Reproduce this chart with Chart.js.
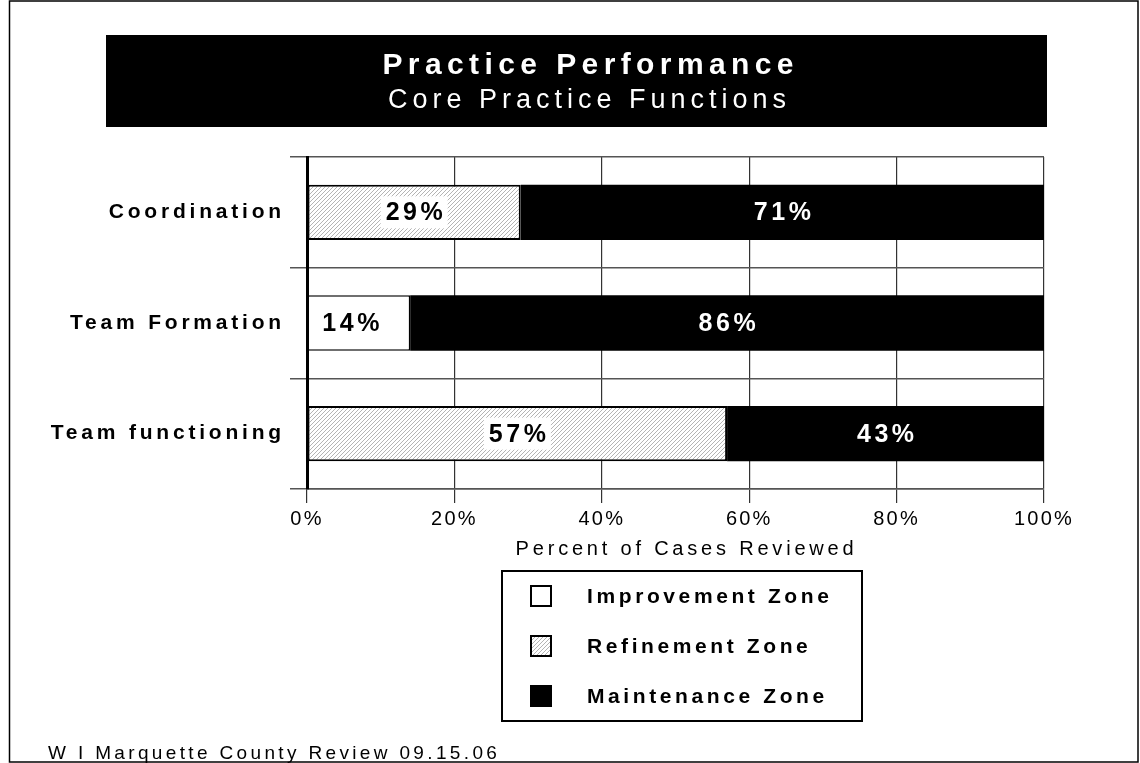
<!DOCTYPE html>
<html lang="en">
<head>
<meta charset="UTF-8">
<title>Practice Performance</title>
<script src="https://cdn.jsdelivr.net/npm/chart.js"></script>
<style>
  body { margin: 0; background: #fff; }
  .wrap { width: 1140px; height: 763px; position: relative; }
</style>
</head>
<body>
<div class="wrap"><canvas id="chart"></canvas></div>
<script>
// data
const categories = ['Coordination', 'Team Formation', 'Team functioning'];
const zoneNames = ['Improvement Zone', 'Refinement Zone', 'Maintenance Zone'];
const improvement = [0, 14, 0];
const refinement = [29, 0, 57];
const maintenance = [71, 86, 43];
const xTicks = [0, 20, 40, 60, 80, 100];
const titleText = 'Practice Performance';
const subtitleText = 'Core Practice Functions';
const axisTitle = 'Percent of Cases Reviewed';
const footerText = 'W I Marquette County Review 09.15.06';

const FONT = '"Liberation Sans", Arial, sans-serif';

// fine diagonal hatch like the original
function makeHatch() {
    const c = document.createElement('canvas');
    c.width = 4; c.height = 4;
    const g = c.getContext('2d');
    g.fillStyle = '#fff';
    g.fillRect(0, 0, 4, 4);
    g.strokeStyle = '#b4b4b4';
    g.lineWidth = 1;
    g.beginPath();
    g.moveTo(0, 4); g.lineTo(4, 0);
    g.moveTo(-1, 1); g.lineTo(1, -1);
    g.moveTo(3, 5); g.lineTo(5, 3);
    g.stroke();
    return g.createPattern(c, 'repeat');
}
const hatch = makeHatch();

function spacedText(ctx, text, x, y, spacing, align) {
    ctx.save();
    ctx.letterSpacing = spacing + 'px';
    ctx.textAlign = align || 'left';
    const dx = align === 'center' ? spacing / 2 : 0;
    ctx.fillText(text, x + dx, y);
    ctx.restore();
}

// letter spacing for the axis texts
function spaceScale(scale, labelGap, titleGap, titleShift) {
    if (scale._spaced) return;
    scale._spaced = true;
    const dl = scale.drawLabels;
    const dt = scale.drawTitle;
    scale.drawLabels = function (a) {
        this.ctx.save();
        this.ctx.letterSpacing = labelGap + 'px';
        dl.call(this, a);
        this.ctx.restore();
    };
    scale.drawTitle = function () {
        this.ctx.save();
        this.ctx.letterSpacing = titleGap + 'px';
        this.ctx.translate(titleShift || 0, 0);
        dt.call(this);
        this.ctx.restore();
    };
}

const decor = {
    id: 'decor',
    afterLayout(chart) {
        spaceScale(chart.scales.y, 3.8, 0);
        spaceScale(chart.scales.x, 2.2, 3.8, 11);
    },
    afterDatasetsDraw(chart) {
        const ctx = chart.ctx;
        ctx.save();
        ctx.font = 'bold 25px ' + FONT;
        ctx.textBaseline = 'middle';
        chart.data.datasets.forEach((ds, di) => {
            const meta = chart.getDatasetMeta(di);
            meta.data.forEach((bar, i) => {
                const v = ds.data[i];
                if (!v) return;
                const p = bar.getProps(['x', 'y', 'base'], true);
                const cx = (p.x + p.base) / 2 - (ds.labelShift || 0);
                const text = v + '%';
                ctx.letterSpacing = '3.5px';
                const w = ctx.measureText(text).width - 3.5;
                if (ds.labelBox) {
                    ctx.fillStyle = '#fff';
                    ctx.fillRect(cx - w / 2 - 5, p.y - 16, w + 10, 32);
                }
                ctx.fillStyle = ds.labelColor;
                spacedText(ctx, text, cx, p.y + 1, 3.5, 'center');
            });
        });
        ctx.restore();
    },
    afterDraw(chart) {
        const ctx = chart.ctx;
        ctx.save();
        // outer frame
        ctx.strokeStyle = '#000';
        ctx.lineWidth = 1.5;
        ctx.strokeRect(9.5, 1, 1128.5, 761);

        // title block
        ctx.fillStyle = '#000';
        ctx.fillRect(106, 35, 941, 92);
        ctx.fillStyle = '#fff';
        ctx.textBaseline = 'alphabetic';
        ctx.font = 'bold 30px ' + FONT;
        spacedText(ctx, titleText, 588, 74, 5.4, 'center');
        ctx.font = '27px ' + FONT;
        spacedText(ctx, subtitleText, 587, 108, 5.0, 'center');

        // legend box
        ctx.strokeStyle = '#000';
        ctx.lineWidth = 2;
        ctx.strokeRect(502, 571, 360, 150);
        ctx.font = 'bold 21px ' + FONT;
        ctx.textBaseline = 'middle';
        chart.data.datasets.forEach((ds, i) => {
            const cy = 596 + i * 50;
            ctx.fillStyle = ds.backgroundColor;
            ctx.fillRect(531, cy - 10, 20, 20);
            ctx.lineWidth = 2;
            ctx.strokeStyle = '#000';
            ctx.strokeRect(531, cy - 10, 20, 20);
            ctx.fillStyle = '#000';
            spacedText(ctx, ds.label, 587, cy + 1, 3.6);
        });

        // footer
        ctx.font = '19px ' + FONT;
        ctx.textBaseline = 'alphabetic';
        spacedText(ctx, footerText, 48, 759, 3.35);
        ctx.restore();
    }
};

new Chart('chart', {
    type: 'bar',
    data: {
        labels: categories,
        datasets: [
            { label: zoneNames[0], data: improvement, backgroundColor: '#fff', borderColor: '#000', borderWidth: 1.5, labelBox: false, labelColor: '#000', labelShift: 8 },
            { label: zoneNames[1], data: refinement, backgroundColor: hatch, borderColor: '#000', borderWidth: 2, labelBox: true, labelColor: '#000' },
            { label: zoneNames[2], data: maintenance, backgroundColor: '#000', borderColor: '#000', borderWidth: 0, labelBox: false, labelColor: '#fff' }
        ]
    },
    options: {
        indexAxis: 'y',
        responsive: true,
        maintainAspectRatio: false,
        animation: false,
        categoryPercentage: 0.5,
        barPercentage: 1,
        borderSkipped: false,
        layout: { padding: { left: 20, top: 157, right: 96, bottom: 202 } },
        plugins: {
            legend: { display: false },
            tooltip: { enabled: false }
        },
        scales: {
            x: {
                stacked: true,
                min: 0,
                max: 100,
                afterBuildTicks: s => { s.ticks = xTicks.map(v => ({ value: v })); },
                afterFit: s => { s.height = 72; },
                ticks: {
                    color: '#000',
                    padding: 4,
                    font: { family: FONT, size: 20 },
                    callback: v => v + '%'
                },
                grid: { color: '#333', lineWidth: 1.2, tickLength: 14 },
                border: { display: true, color: '#555', width: 1.5 },
                title: {
                    display: true,
                    text: axisTitle,
                    color: '#000',
                    padding: 0,
                    font: { family: FONT, size: 20 }
                }
            },
            y: {
                stacked: true,
                afterFit: s => { s.width = 287; },
                ticks: {
                    color: '#000',
                    padding: 5,
                    font: { family: FONT, size: 21, weight: 'bold' }
                },
                grid: { color: '#555', lineWidth: 1.5, tickLength: 17, offset: true },
                border: { display: true, color: '#000', width: 3 }
            }
        }
    },
    plugins: [decor]
});
</script>
</body>
</html>
